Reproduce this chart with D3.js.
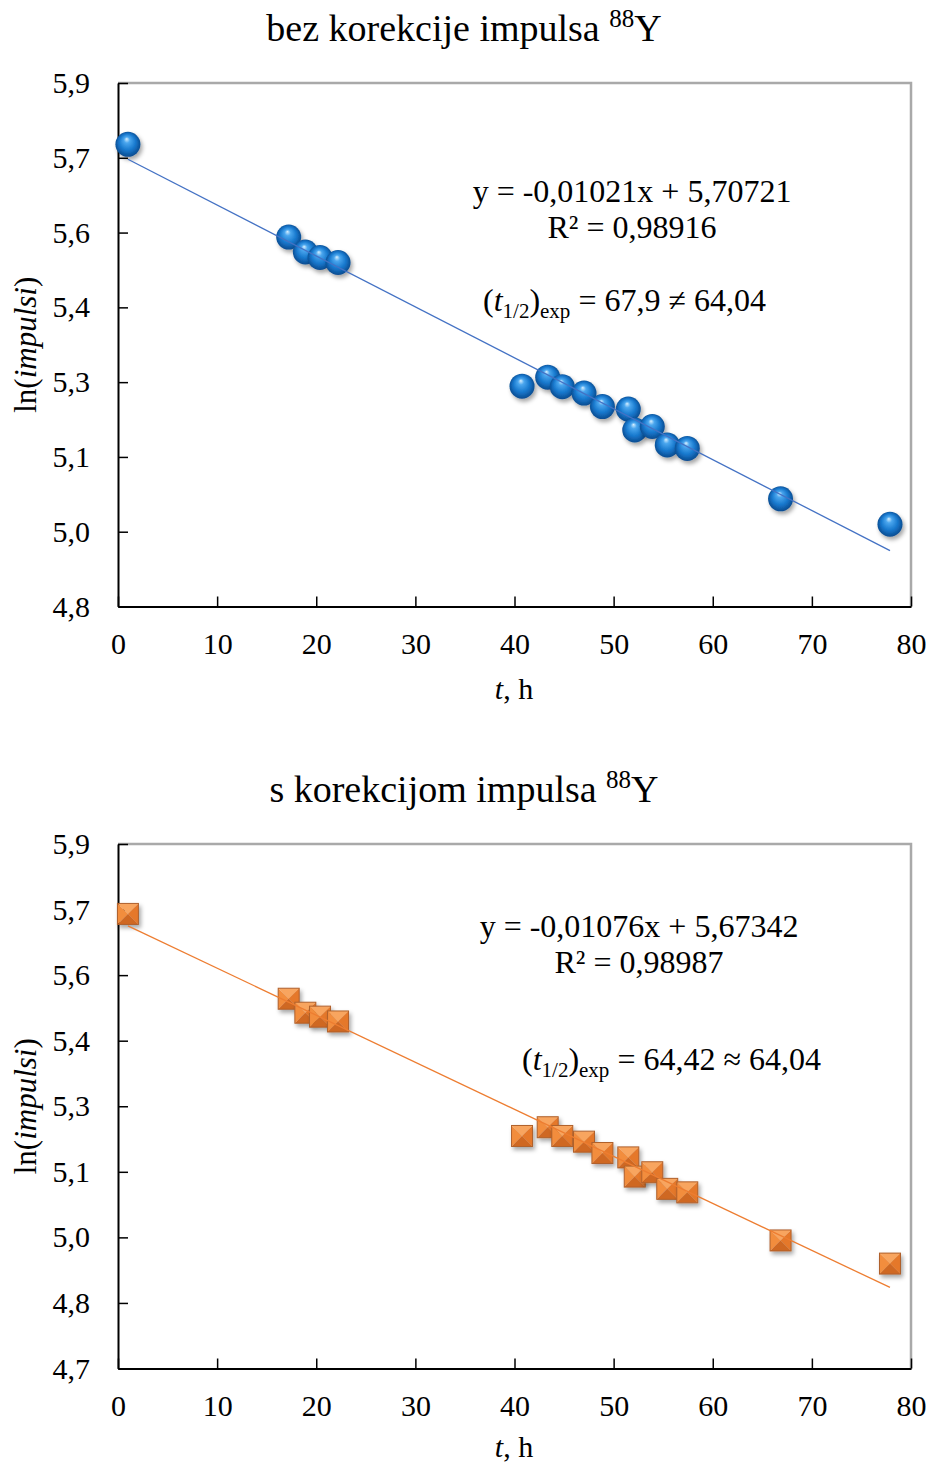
<!DOCTYPE html>
<html>
<head>
<meta charset="utf-8">
<script src="https://cdn.jsdelivr.net/npm/d3@7"></script>
<style>
  html, body { margin: 0; padding: 0; background: #fff; }
  svg text { font-family: "Liberation Serif", "Times New Roman", serif; fill: #000; }
</style>
</head>
<body>
<svg id="chart" width="932" height="1465"></svg>
<script>
// ---- data ----
const tHours = [1.0, 17.22, 18.90, 20.38, 22.20, 40.76, 43.35, 44.82, 47.01, 48.87, 51.48, 52.13, 53.90, 55.41, 57.43, 66.84, 77.88];
const lnRaw  = [5.727, 5.541, 5.511, 5.500, 5.490, 5.242, 5.260, 5.241, 5.228, 5.201, 5.196, 5.154, 5.161, 5.124, 5.117, 5.016, 4.965];
const lnCorr = [5.690, 5.496, 5.464, 5.455, 5.444, 5.182, 5.202, 5.182, 5.169, 5.143, 5.133, 5.089, 5.099, 5.061, 5.053, 4.943, 4.890];

const fitRaw  = [-0.01021, 5.70721];
const fitCorr = [-0.01076, 5.67342];

const xTicks = [0, 10, 20, 30, 40, 50, 60, 70, 80];
const xTickLabels = ["0", "10", "20", "30", "40", "50", "60", "70", "80"];
const yTicksTop = [4.8, 4.95, 5.1, 5.25, 5.4, 5.55, 5.7, 5.85];
const yTickLabelsTop = ["4,8", "5,0", "5,1", "5,3", "5,4", "5,6", "5,7", "5,9"];
const yTicksBot = [4.65, 4.8, 4.95, 5.1, 5.25, 5.4, 5.55, 5.7, 5.85];
const yTickLabelsBot = ["4,7", "4,8", "5,0", "5,1", "5,3", "5,4", "5,6", "5,7", "5,9"];

const titles = ["bez korekcije impulsa ", "s korekcijom impulsa "];
const eqTexts = ["y = -0,01021x + 5,70721", "y = -0,01076x + 5,67342"];
const r2Texts = ["R\u00B2 = 0,98916", "R\u00B2 = 0,98987"];
const halfTexts = [" = 67,9 \u2260 64,04", " = 64,42 \u2248 64,04"];

// ---- drawing ----
const svg = d3.select("#chart");
const defs = svg.append("defs");

const sph = defs.append("radialGradient").attr("id", "sphere")
  .attr("cx", "50%").attr("cy", "50%").attr("r", "55%")
  .attr("fx", "45%").attr("fy", "28%");
sph.append("stop").attr("offset", "0%").attr("stop-color", "#d6efff");
sph.append("stop").attr("offset", "22%").attr("stop-color", "#4aa6ee");
sph.append("stop").attr("offset", "60%").attr("stop-color", "#1677cc");
sph.append("stop").attr("offset", "100%").attr("stop-color", "#0a4384");

const sh = defs.append("filter").attr("id", "shadow")
  .attr("x", "-50%").attr("y", "-50%").attr("width", "200%").attr("height", "200%");
sh.append("feDropShadow").attr("dx", 2).attr("dy", 3).attr("stdDeviation", 2.2)
  .attr("flood-color", "#000").attr("flood-opacity", 0.35);

function drawChart(cfg) {
  const x = d3.scaleLinear().domain([0, 80]).range([118, 911]);
  const y = d3.scaleLinear().domain(cfg.yDomain).range([cfg.bottom, cfg.top]);
  const g = svg.append("g");

  // title
  const tt = g.append("text").attr("x", 464).attr("y", cfg.titleY)
    .attr("text-anchor", "middle").style("font-size", "38px");
  tt.append("tspan").text(cfg.title);
  tt.append("tspan").attr("dy", -14).style("font-size", "25px").text("88");
  tt.append("tspan").attr("dy", 14).text("Y");

  // frame (top/right gray)
  g.append("path")
    .attr("d", `M${x(0)},${y(cfg.yDomain[1])}H${x(80)}V${y(cfg.yDomain[0])}`)
    .attr("fill", "none").attr("stroke", "#a9a9a9").attr("stroke-width", 2.5);

  // axes
  const yAxis = d3.axisLeft(y).tickValues(cfg.yTicks)
    .tickFormat((d, i) => cfg.yLabels[i]).tickSizeInner(-10).tickSizeOuter(0).tickPadding(28);
  const ya = g.append("g").attr("transform", `translate(${x(0)},0)`).call(yAxis);
  ya.select(".domain").attr("stroke", "#000").attr("stroke-width", 2);
  ya.selectAll(".tick line").attr("stroke", "#000").attr("stroke-width", 1.5);
  ya.selectAll(".tick text").style("font-size", "30px")
    .attr("font-family", "Liberation Serif").attr("fill", "#000");

  const xAxis = d3.axisBottom(x).tickValues(xTicks)
    .tickFormat((d, i) => xTickLabels[i]).tickSizeInner(-10).tickSizeOuter(0).tickPadding(26);
  const xa = g.append("g").attr("transform", `translate(0,${cfg.bottom})`).call(xAxis);
  xa.select(".domain").attr("stroke", "#000").attr("stroke-width", 2);
  xa.selectAll(".tick line").attr("stroke", "#000").attr("stroke-width", 1.5);
  xa.selectAll(".tick text").style("font-size", "30px")
    .attr("font-family", "Liberation Serif").attr("fill", "#000");

  // axis titles
  const xt = g.append("text").attr("x", 514).attr("y", cfg.xTitleY)
    .attr("text-anchor", "middle").style("font-size", "30px");
  xt.append("tspan").style("font-style", "italic").text("t");
  xt.append("tspan").text(", h");

  const yt = g.append("text")
    .attr("transform", `translate(36,${(cfg.top + cfg.bottom) / 2}) rotate(-90)`)
    .attr("text-anchor", "middle").style("font-size", "31px");
  yt.append("tspan").text("ln(");
  yt.append("tspan").style("font-style", "italic").text("impulsi");
  yt.append("tspan").text(")");

  // markers
  const pts = tHours.map((t, i) => [t, cfg.values[i]]);
  const mg = g.append("g");
  if (cfg.marker === "sphere") {
    mg.selectAll("circle").data(pts).join("circle")
      .attr("cx", d => x(d[0])).attr("cy", d => y(d[1])).attr("r", 12.5)
      .attr("fill", "url(#sphere)").attr("filter", "url(#shadow)");
  } else {
    const s = 10.5;
    const sq = mg.selectAll("g").data(pts).join("g")
      .attr("transform", d => `translate(${x(d[0])},${y(d[1])})`)
      .attr("filter", "url(#shadow)");
    const tris = [
      { p: `M${-s},${-s}L${s},${-s}L0,0Z`, c: "#f8a55e" },
      { p: `M${-s},${-s}L${-s},${s}L0,0Z`, c: "#f28d3e" },
      { p: `M${s},${-s}L${s},${s}L0,0Z`, c: "#e5782a" },
      { p: `M${-s},${s}L${s},${s}L0,0Z`, c: "#cf6722" }
    ];
    tris.forEach(tr => sq.append("path").attr("d", tr.p).attr("fill", tr.c));
    sq.append("rect").attr("x", -s).attr("y", -s).attr("width", 2 * s).attr("height", 2 * s)
      .attr("fill", "none").attr("stroke", "#b0612c").attr("stroke-width", 1);
  }

  // trendline
  const xr = d3.extent(tHours);
  const fit = cfg.fit;
  g.append("line")
    .attr("x1", x(xr[0])).attr("y1", y(fit[0] * xr[0] + fit[1]))
    .attr("x2", x(xr[1])).attr("y2", y(fit[0] * xr[1] + fit[1]))
    .attr("stroke", cfg.lineColor).attr("stroke-width", 1.3);

  // annotations
  g.append("text").attr("x", cfg.eqX).attr("y", cfg.eqY).attr("text-anchor", "middle")
    .style("font-size", "32px").text(cfg.eq);
  g.append("text").attr("x", cfg.eqX).attr("y", cfg.eqY + 36).attr("text-anchor", "middle")
    .style("font-size", "32px").text(cfg.r2);
  const ht = g.append("text").attr("x", cfg.hX).attr("y", cfg.hY)
    .style("font-size", "32px");
  ht.append("tspan").text("(");
  ht.append("tspan").style("font-style", "italic").text("t");
  ht.append("tspan").attr("dy", 7).style("font-size", "21px").text("1/2");
  ht.append("tspan").attr("dy", -7).text(")");
  ht.append("tspan").attr("dy", 7).style("font-size", "21px").text("exp");
  ht.append("tspan").attr("dy", -7).text(cfg.half);
}

drawChart({
  title: titles[0], titleY: 41, top: 83, bottom: 606.5, xTitleY: 699,
  yDomain: [4.8, 5.85], yTicks: yTicksTop, yLabels: yTickLabelsTop,
  values: lnRaw, fit: fitRaw, marker: "sphere", lineColor: "#4472c4",
  eq: eqTexts[0], r2: r2Texts[0], half: halfTexts[0],
  eqX: 632, eqY: 202, hX: 483, hY: 311
});

drawChart({
  title: titles[1], titleY: 802, top: 844, bottom: 1368.5, xTitleY: 1457,
  yDomain: [4.65, 5.85], yTicks: yTicksBot, yLabels: yTickLabelsBot,
  values: lnCorr, fit: fitCorr, marker: "square", lineColor: "#ed7d31",
  eq: eqTexts[1], r2: r2Texts[1], half: halfTexts[1],
  eqX: 639, eqY: 937, hX: 522, hY: 1070
});
</script>
</body>
</html>
